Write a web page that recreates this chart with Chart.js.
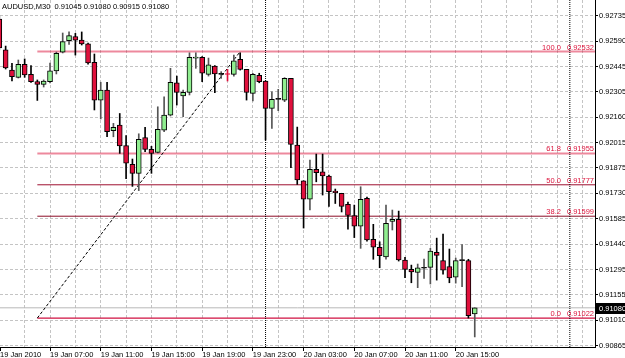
<!DOCTYPE html>
<html><head><meta charset="utf-8">
<script src="https://cdn.jsdelivr.net/npm/chart.js@4.4.1/dist/chart.umd.min.js"></script>
<style>html,body{margin:0;padding:0;background:#fff;overflow:hidden}</style>
</head><body><canvas id="c" width="625" height="358"></canvas>
<script>
// ---- data ----
const symbolTitle = 'AUDUSD,M30  0.91045 0.91080 0.90915 0.91080';
const tickBars = [0, 8, 16, 24, 32, 40, 48, 56, 64, 72];
const tickLabels = ['19 Jan 2010','19 Jan 07:00','19 Jan 11:00','19 Jan 15:00','19 Jan 19:00','19 Jan 23:00','20 Jan 03:00','20 Jan 07:00','20 Jan 11:00','20 Jan 15:00'];
const priceTicks = [0.92735,0.92590,0.92445,0.92305,0.92160,0.92015,0.91875,0.91730,0.91585,0.91440,0.91295,0.91155,0.91010,0.90865];
const openPrices = [0.92716,0.92541,0.92427,0.92386,0.92460,0.92403,0.92362,0.92346,0.92361,0.92422,
0.92528,0.92593,0.92617,0.92597,0.92575,0.92471,0.92257,0.92314,0.92083,0.92116,
0.91999,0.91893,0.91842,0.92045,0.91978,0.91960,0.92087,0.92172,0.92355,0.92280,
0.92301,0.92495,0.92499,0.92403,0.92450,0.92403,0.92405,0.92403,0.92488,0.92431,
0.92295,0.92397,0.92365,0.92210,0.92261,0.92257,0.92380,0.92002,0.91800,0.91695,
0.91865,0.91851,0.91827,0.91742,0.91729,0.91666,0.91602,0.91543,0.91700,0.91468,
0.91423,0.91369,0.91570,0.91581,0.91351,0.91298,0.91280,0.91304,0.91309,0.91394,
0.91347,0.91313,0.91253,0.91347,0.91347,0.91045];
const highPrices = [0.92733,0.92563,0.92465,0.92484,0.92490,0.92452,0.92371,0.92371,0.92467,0.92529,
0.92637,0.92643,0.92635,0.92643,0.92580,0.92518,0.92358,0.92358,0.92125,0.92181,
0.92056,0.91923,0.92066,0.92102,0.91995,0.92219,0.92276,0.92437,0.92393,0.92314,
0.92525,0.92525,0.92503,0.92495,0.92453,0.92418,0.92431,0.92512,0.92525,0.92431,
0.92409,0.92409,0.92365,0.92304,0.92318,0.92384,0.92380,0.92104,0.91800,0.91917,
0.91951,0.91951,0.91832,0.91753,0.91729,0.91679,0.91662,0.91766,0.91708,0.91553,
0.91454,0.91662,0.91634,0.91628,0.91366,0.91322,0.91328,0.91356,0.91417,0.91475,
0.91498,0.91413,0.91362,0.91438,0.91355,0.91080];
const lowPrices = [0.92541,0.92433,0.92365,0.92382,0.92386,0.92357,0.92255,0.92331,0.92354,0.92405,
0.92524,0.92572,0.92512,0.92569,0.92461,0.92201,0.92150,0.92049,0.92049,0.91955,
0.91812,0.91768,0.91744,0.91964,0.91842,0.91957,0.92078,0.92167,0.92229,0.92163,
0.92286,0.92437,0.92361,0.92393,0.92299,0.92380,0.92365,0.92393,0.92427,0.92257,
0.92252,0.92355,0.92031,0.92097,0.92197,0.92248,0.91874,0.91779,0.91532,0.91634,
0.91794,0.91719,0.91654,0.91671,0.91623,0.91526,0.91478,0.91417,0.91458,0.91355,
0.91307,0.91355,0.91521,0.91345,0.91251,0.91222,0.91194,0.91247,0.91215,0.91237,
0.91271,0.91222,0.91220,0.91200,0.91022,0.90915];
const closePrices = [0.92552,0.92439,0.92389,0.92460,0.92399,0.92361,0.92346,0.92365,0.92422,0.92522,
0.92588,0.92622,0.92597,0.92575,0.92467,0.92257,0.92314,0.92078,0.92103,0.91997,
0.91899,0.91842,0.92035,0.91978,0.91955,0.92091,0.92172,0.92358,0.92301,0.92301,
0.92499,0.92501,0.92409,0.92456,0.92405,0.92403,0.92402,0.92480,0.92431,0.92301,
0.92403,0.92361,0.92210,0.92261,0.92261,0.92380,0.92006,0.91804,0.91695,0.91865,
0.91846,0.91827,0.91738,0.91732,0.91655,0.91604,0.91543,0.91695,0.91464,0.91423,
0.91375,0.91559,0.91581,0.91351,0.91298,0.91283,0.91307,0.91304,0.91402,0.91377,
0.91294,0.91250,0.91347,0.91347,0.91035,0.91080];
const fibLevels = ['0.0','38.2','50.0','61.8','100.0'];
const fibPrices = [0.91022,0.91599,0.91777,0.91955,0.92532];
const fibAnchorBars = [6, 38];
const daySeparatorBars = [42, 90];
const currentPrice = 0.91080;

// ---- view / styles ----
const xMin = 0.11, xMax = 93.97, yMin = 0.90858, yMax = 0.92824;
const FONT = '"Liberation Sans", Arial, sans-serif';
const BULL = '#90EE90', BEAR = '#E0103C', FIB = '#DC143C';
const fibLineStyles = [
  {color:'#D01040', width:1.2},
  {color:'#8C0C26', width:1},
  {color:'#9E1030', width:1},
  {color:'rgba(220,20,60,0.5)', width:2},
  {color:'rgba(220,20,60,0.5)', width:2}
];

const idx = openPrices.map((_, i) => i);
const isTinyBear = i => closePrices[i] < openPrices[i] && (openPrices[i] - closePrices[i]) < 0.00005;
const wickData = idx.map(i => ({x: i, y: [lowPrices[i], highPrices[i]]}));
const bodyData = idx.map(i => ({x: i, y: [Math.min(openPrices[i], closePrices[i]), Math.max(openPrices[i], closePrices[i])]}));
const bodyColors = idx.map(i => closePrices[i] > openPrices[i] ? BULL : (closePrices[i] < openPrices[i] ? BEAR : '#000'));
const bodyBorders = idx.map(i => isTinyBear(i) ? BEAR : '#000');
const wickColors = idx.map(i => isTinyBear(i) ? BEAR : (closePrices[i] >= openPrices[i] ? '#555' : '#000'));

const datasets = [];
datasets.push({type:'line', data:[{x:xMin,y:currentPrice},{x:xMax,y:currentPrice}], borderColor:'#b8b8b8', borderWidth:1, pointRadius:0, order:20});
fibPrices.forEach((p, k) => datasets.push({type:'line', data:[{x:fibAnchorBars[0],y:p},{x:xMax,y:p}], borderColor:fibLineStyles[k].color, borderWidth:fibLineStyles[k].width, pointRadius:0, order:15}));
datasets.push({type:'line', data:[{x:fibAnchorBars[0],y:fibPrices[0]},{x:fibAnchorBars[1],y:fibPrices[4]}], borderColor:'#000', borderWidth:1, borderDash:[3,2], pointRadius:0, order:14});
daySeparatorBars.forEach(b => datasets.push({type:'line', data:[{x:b,y:yMin},{x:b,y:yMax}], borderColor:'#000', borderWidth:1, borderDash:[1,1], pointRadius:0, order:13}));
datasets.push({type:'bar', data:wickData, backgroundColor:wickColors, barThickness:1, grouped:false, order:2});
datasets.push({type:'bar', data:bodyData, backgroundColor:bodyColors, borderColor:bodyBorders, borderWidth:1, borderSkipped:false, minBarLength:1, barThickness:5, grouped:false, order:1});

const textPlugin = {
  id: 'texts',
  afterDraw(chart) {
    const {ctx, scales:{x, y}, chartArea} = chart;
    ctx.save();
    ctx.font = '7.5px ' + FONT;
    ctx.fillStyle = '#000';
    ctx.textAlign = 'left'; ctx.textBaseline = 'alphabetic';
    ctx.fillText(symbolTitle, 2, 8.5);
    ctx.fillStyle = FIB; ctx.textAlign = 'right';
    fibPrices.forEach((p, k) => {
      const py = y.getPixelForValue(p) - 2;
      const ps = p.toFixed(5);
      ctx.fillText(ps, chartArea.right - 1, py);
      const w = ctx.measureText(ps).width;
      ctx.fillText(fibLevels[k], chartArea.right - 1 - w - 6, py);
    });
    const cy = Math.round(y.getPixelForValue(currentPrice));
    ctx.fillStyle = '#000';
    ctx.fillRect(chartArea.right + 1, cy - 5, 30, 11);
    ctx.fillStyle = '#fff'; ctx.textAlign = 'left'; ctx.textBaseline = 'middle';
    ctx.fillText(currentPrice.toFixed(5), chartArea.right + 4, cy + 0.5);
    ctx.restore();
  }
};

new Chart(document.getElementById('c'), {
  type: 'bar',
  data: {datasets},
  options: {
    responsive:false, animation:false, devicePixelRatio:1,
    layout:{padding:0},
    plugins:{legend:{display:false}, tooltip:{enabled:false}, title:{display:false}},
    scales:{
      x:{type:'linear', min:xMin, max:xMax, position:'bottom', offset:false,
        afterBuildTicks(scale){ const t=[{value:xMin}]; for(let v=4; v<xMax; v+=4) t.push({value:v}); scale.ticks=t; },
        afterFit(scale){ scale.height=11; scale.paddingLeft=0; scale.paddingRight=0; },
        ticks:{autoSkip:false, maxRotation:0, minRotation:0, align:'start', padding:0, color:'#000',
          font:{family:FONT, size:7.5, lineHeight:1},
          callback(v){ if (v===xMin) return tickLabels[0]; const k = tickBars.indexOf(v); return k>0 ? tickLabels[k] : ''; }},
        grid:{offset:false, color:(c)=> (c.tick && c.tick.value===xMin) ? 'rgba(0,0,0,0)' : '#c4c4c4', lineWidth:1,
          tickColor:(c)=> (c.tick && (c.tick.value===xMin || tickBars.indexOf(c.tick.value)>0)) ? '#000' : 'rgba(0,0,0,0)',
          tickLength:4, tickBorderDash:[]},
        border:{display:true, color:'#000', width:1, dash:[3,2]}
      },
      y:{type:'linear', min:yMin, max:yMax, position:'right',
        afterBuildTicks(scale){ scale.ticks = priceTicks.map(v=>({value:v})); },
        afterFit(scale){ scale.width=30; scale.paddingTop=0; scale.paddingBottom=0; },
        ticks:{autoSkip:false, padding:1, color:'#000', font:{family:FONT, size:7.5, lineHeight:1}, callback(v){ return Number(v).toFixed(5); }},
        grid:{color:'#c4c4c4', lineWidth:1, tickColor:'#000', tickLength:3, tickBorderDash:[]},
        border:{display:true, color:'#000', width:1, dash:[3,2]}
      }
    }
  },
  plugins:[textPlugin]
});
</script></body></html>
